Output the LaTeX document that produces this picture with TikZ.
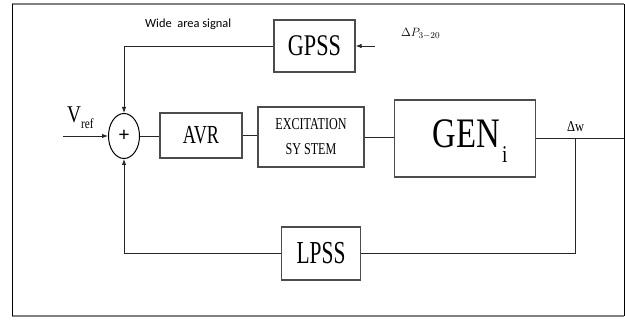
\documentclass[tikz,border=0pt]{standalone}
\usepackage{fontspec}
\setmainfont{Liberation Serif}
\newfontfamily\calib{Carlito}
\usetikzlibrary{shapes.geometric,arrows.meta}
\newcommand{\nx}[2]{\scalebox{#1}[1]{#2}}
\begin{document}
\begin{tikzpicture}[x=1pt,y=-1pt,
  blk/.style={draw=black!70,line width=1.2pt,inner sep=0pt,fill=white},
  wire/.style={draw=black!85,line width=0.9pt},
  sig/.style={wire,-{Latex[length=6pt,width=4.5pt]}},
  fs/.style={font=\fontsize{#1}{#1}\selectfont},
  lbl/.style={anchor=base west,inner sep=0pt}
]
\useasboundingbox (0,0) rectangle (625,320);
% frame
\draw[black!50,line width=2pt] (12,4) -- (624,4) (12,316) -- (624,316);
\draw[black,line width=1pt] (12,4) -- (12,316) (624,4) -- (624,316);

% blocks
\node[blk,minimum width=81pt,minimum height=52pt,fs=30] (gpss) at (314.5,46) {\nx{0.74}{GPSS}};
\node[blk,draw=black,line width=1pt,ellipse,minimum width=31pt,minimum height=45pt,fs=20] (sum) at (124,136) {\textbf{+}};
\node[blk,minimum width=82pt,minimum height=45pt,fs=26] (avr) at (201,135.5) {\nx{0.7}{AVR}};
\node[blk,minimum width=106pt,minimum height=60pt,align=center,font=\fontsize{16.6}{25}\selectfont] (exc) at (311,137) {\nx{0.73}{EXCITATION}\\\nx{0.73}{SY STEM}};
\node[blk,minimum width=141pt,minimum height=77pt] (gen) at (465,138.5) {};
\node[fs=42,inner sep=0pt,anchor=base] (genlbl) at (466.5,148) {\nx{0.78}{GEN}\rlap{\hspace{2pt}\raisebox{-15pt}{\fontsize{24}{24}\selectfont\nx{0.8}{i}}}};
\node[blk,minimum width=79pt,minimum height=53pt,fs=32] (lpss) at (321,253.5) {\nx{0.67}{LPSS}};

% labels
\node[lbl,font=\calib\fontsize{12.4}{12.4}\selectfont] (wide) at (145,28) {Wide\ \ area signal};
\node[lbl,fs=13] (dp) at (401,36.7) {$\Delta P_{3-20}$};
\node[lbl,fs=24] (vref) at (67,123) {\nx{0.8}{V}\raisebox{-6pt}{\fontsize{14}{14}\selectfont\nx{0.8}{ref}}};
\node[lbl,fs=15] (dw) at (567,132) {\nx{0.83}{Δw}};

% coordinates
\coordinate (dpin) at (375,46);
\coordinate (vin) at (63,136);
\coordinate (out) at (624,138.5);
\coordinate (tap) at (575,138.5);

% connectors
\draw[sig] (dpin) -- (gpss.east);
\draw[sig] (gpss.west) -| (sum.north);
\draw[sig] (vin) -- (sum.west);
\draw[sig] (lpss.west) -| (sum.south);
\draw[wire] (sum.east) -- (avr.west |- sum.east);
\draw[wire] (avr.east) -- (exc.west |- avr.east);
\draw[wire] (exc.east) -- (gen.west |- exc.east);
\draw[wire] (gen.east) -- (out);
\draw[wire] (tap) |- (lpss.east);
\end{tikzpicture}
\end{document}
